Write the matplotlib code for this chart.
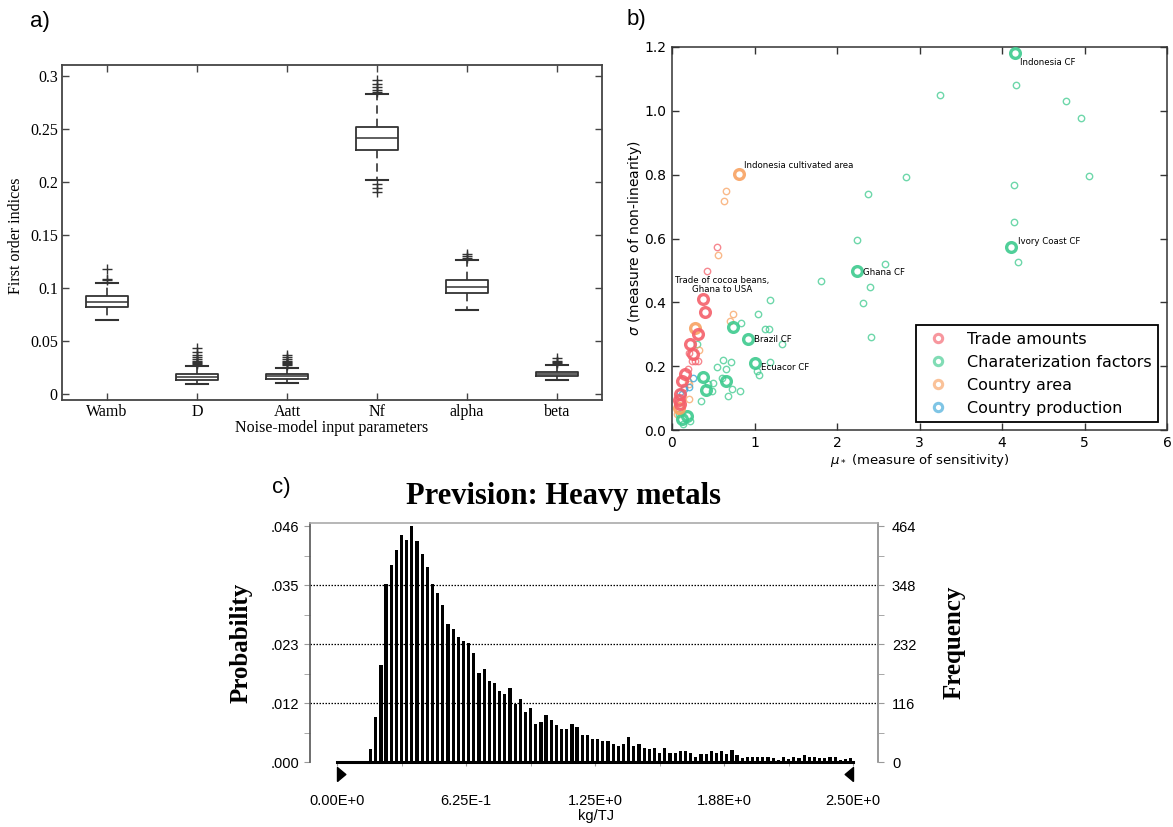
import numpy as np
import matplotlib
matplotlib.use("Agg")
import matplotlib.pyplot as plt
from matplotlib.lines import Line2D
from matplotlib.markers import MarkerStyle
import matplotlib.transforms as mtransforms

# ---------------- a) first-order sensitivity indices ----------------
param_names = ["Wamb", "D", "Aatt", "Nf", "alpha", "beta"]
idx_q1 = [0.0816, 0.0129, 0.0141, 0.2300, 0.0951, 0.0166]
idx_med = [0.0866, 0.0160, 0.0166, 0.2413, 0.1007, 0.0188]
idx_q3 = [0.0920, 0.0188, 0.0188, 0.2513, 0.1076, 0.0207]
idx_whislo = [0.0693, 0.0094, 0.0104, 0.2018, 0.0788, 0.0135]
idx_whishi = [0.1045, 0.0260, 0.0245, 0.2827, 0.1265, 0.0270]
idx_fliers = [
    [0.107, 0.108, 0.118],
    [0.028, 0.029, 0.030, 0.031, 0.033, 0.035, 0.037, 0.040, 0.043],
    [0.027, 0.028, 0.029, 0.030, 0.031, 0.033, 0.035, 0.037],
    [0.285, 0.287, 0.289, 0.292, 0.296, 0.198, 0.194, 0.190],
    [0.128, 0.130, 0.132],
    [0.029, 0.030, 0.031, 0.034],
]
a_yticks = [0, 0.05, 0.1, 0.15, 0.2, 0.25, 0.3]
a_yticklabels = ["0", "0.05", "0.1", "0.15", "0.2", "0.25", "0.3"]

# ---------------- b) Morris screening: mu* vs sigma ----------------
trade_major_x = [0.38, 0.40, 0.32, 0.22, 0.26, 0.12, 0.16, 0.10, 0.10, 0.09]
trade_major_y = [0.4115, 0.370, 0.2995, 0.270, 0.239, 0.155, 0.176, 0.113, 0.082, 0.095]
trade_minor_x = [0.42, 0.55, 0.24, 0.28, 0.32, 0.19, 0.14, 0.21]
trade_minor_y = [0.497, 0.574, 0.216, 0.216, 0.216, 0.192, 0.135, 0.240]

cf_major_x = [4.16, 4.11, 2.24, 0.92, 1.01, 0.74, 0.38, 0.41, 0.66, 0.12, 0.18]
cf_major_y = [1.18, 0.572, 0.497, 0.286, 0.209, 0.322, 0.165, 0.124, 0.153, 0.035, 0.045]
cf_minor_x = [4.17, 3.25, 4.77, 4.96, 5.05, 2.84, 4.15, 2.37, 4.15, 2.24,
              2.58, 4.19, 1.81, 2.40, 2.31, 2.41, 1.19, 1.04, 0.84, 1.13,
              1.18, 1.33, 0.62, 0.72, 0.55, 0.65, 1.19, 1.03, 1.05, 0.60,
              0.50, 0.73, 0.83, 0.49, 0.68, 0.35, 0.44, 0.30, 0.13, 0.22, 0.08]
cf_minor_y = [1.08, 1.05, 1.03, 0.977, 0.796, 0.792, 0.769, 0.739, 0.651, 0.595,
              0.519, 0.525, 0.467, 0.448, 0.399, 0.291, 0.408, 0.364, 0.335, 0.317,
              0.317, 0.268, 0.220, 0.213, 0.197, 0.190, 0.213, 0.186, 0.171, 0.162,
              0.147, 0.129, 0.121, 0.121, 0.108, 0.092, 0.145, 0.270, 0.019, 0.029, 0.050]

area_major_x = [0.81, 0.28, 0.09]
area_major_y = [0.802, 0.320, 0.070]
area_minor_x = [0.56, 0.66, 0.63, 0.74, 0.70, 0.33, 0.21, 0.08, 0.21, 0.19, 0.06]
area_minor_y = [0.548, 0.750, 0.718, 0.362, 0.343, 0.250, 0.097, 0.061, 0.144, 0.155, 0.050]

prod_x = [0.25, 0.14, 0.12, 0.20, 0.10]
prod_y = [0.163, 0.129, 0.113, 0.134, 0.120]

group_names = ["Trade amounts", "Charaterization factors", "Country area", "Country production"]
group_colors = ["#f4606b", "#3dca8e", "#f8a262", "#3aa6d8"]

point_labels = [
    ("Indonesia CF", 4.22, 1.151, "left"),
    ("Indonesia cultivated area", 0.87, 0.83, "left"),
    ("Trade of cocoa beans,\nGhana to USA", 0.61, 0.455, "center"),
    ("Ghana CF", 2.32, 0.493, "left"),
    ("Brazil CF", 1.00, 0.285, "left"),
    ("Ecuacor CF", 1.08, 0.196, "left"),
    ("Ivory Coast CF", 4.20, 0.592, "left"),
]

# ---------------- c) Monte Carlo forecast histogram ----------------
hist_counts = [25, 88, 190, 350, 387, 417, 447, 437, 465, 434,
               410, 384, 350, 332, 308, 271, 261, 245, 238, 234,
               214, 175, 183, 160, 156, 140, 133, 146, 114, 123,
               99, 106, 75, 78, 93, 82, 72, 65, 65, 75,
               69, 54, 54, 45, 45, 41, 41, 35, 32, 36,
               49, 31, 36, 28, 25, 28, 17, 28, 17, 17,
               22, 22, 17, 10, 16, 16, 22, 18, 22, 16,
               23, 14, 8, 9, 9, 9, 10, 10, 7, 4,
               10, 6, 9, 7, 13, 9, 9, 8, 8, 9,
               9, 4, 5, 7]
hist_first_bin = 0.15
hist_bin_width = 0.025
n_trials = 10000
freq_ticks = [0, 116, 232, 348, 464]
c_xticks = [0.0, 0.625, 1.25, 1.875, 2.5]
c_xticklabels = ["0.00E+0", "6.25E-1", "1.25E+0", "1.88E+0", "2.50E+0"]

W, H = 1173, 827
fig = plt.figure(figsize=(W / 100, H / 100), dpi=100)


def px_axes(left, top, right, bottom):
    return fig.add_axes([left / W, 1 - bottom / H, (right - left) / W, (bottom - top) / H])


SERIF = "Liberation Serif"
SANS = "Liberation Sans"

# ================= panel a =================
axa = px_axes(62, 65, 602, 400)
stats = []
for i, name in enumerate(param_names):
    stats.append(dict(label=name, med=idx_med[i], q1=idx_q1[i], q3=idx_q3[i],
                      whislo=idx_whislo[i], whishi=idx_whishi[i], fliers=idx_fliers[i]))
ink = "#333333"
axa.bxp(stats, positions=range(1, len(param_names) + 1), widths=0.47, capwidths=0.25,
        boxprops=dict(color=ink, lw=1.3),
        medianprops=dict(color=ink, lw=1.1),
        whiskerprops=dict(color=ink, lw=1.2, linestyle=(0, (5, 3))),
        capprops=dict(color=ink, lw=1.5),
        flierprops=dict(marker="+", markeredgecolor=ink, markersize=7, markeredgewidth=1.0,
                        linestyle="none"))
axa.set_xlim(0.5, 6.5)
axa.set_ylim(-0.0057, 0.3101)
axa.set_yticks(a_yticks)
axa.set_yticklabels(a_yticklabels)
axa.set_xticks(range(1, len(param_names) + 1))
axa.set_xticklabels(param_names)
axa.tick_params(direction="in", top=True, right=True, length=5, width=1, color="#444444",
                labelsize=11.5, pad=3)
for lab in axa.get_xticklabels() + axa.get_yticklabels():
    lab.set_family(SERIF)
for s in axa.spines.values():
    s.set_color("#444444")
    s.set_linewidth(1.3)
axa.set_xlabel("Noise-model input parameters", family=SERIF, fontsize=11.5, labelpad=0)
axa.set_ylabel("First order indices", family=SERIF, fontsize=11.5)
axa.yaxis.set_label_coords(-0.07, 0.49)

# ================= panel b =================
axb = px_axes(672, 47, 1167, 430)


def rings(ax, xs, ys, color, size, lw, alpha, z):
    ax.plot(xs, ys, linestyle="none", marker="o", markersize=size, markerfacecolor="none",
            markeredgecolor=color, markeredgewidth=lw, alpha=alpha, zorder=z)


rings(axb, cf_minor_x, cf_minor_y, group_colors[1], 4.6, 1.0, 0.75, 2)
rings(axb, area_minor_x, area_minor_y, group_colors[2], 4.6, 1.0, 0.75, 2)
rings(axb, trade_minor_x, trade_minor_y, group_colors[0], 4.6, 1.0, 0.75, 2)
rings(axb, prod_x, prod_y, group_colors[3], 4.6, 1.0, 0.8, 3)
rings(axb, cf_major_x, cf_major_y, group_colors[1], 7.0, 2.4, 0.9, 3)
rings(axb, area_major_x, area_major_y, group_colors[2], 7.0, 2.4, 0.9, 3)
rings(axb, trade_major_x, trade_major_y, group_colors[0], 7.0, 2.4, 0.9, 4)

for text, x, y, ha in point_labels:
    axb.text(x, y, text, fontsize=6.2, ha=ha, va="center", family="DejaVu Sans",
             linespacing=1.0, zorder=5)

axb.set_xlim(0, 6)
axb.set_ylim(0, 1.2)
axb.set_xticks(range(0, 7))
axb.set_yticks(np.arange(0, 1.21, 0.2))
axb.set_yticklabels([f"{v:.1f}" for v in np.arange(0, 1.21, 0.2)])
axb.tick_params(direction="in", top=True, right=True, length=5, width=1, color="#333333",
                labelsize=10, pad=4)
for s in axb.spines.values():
    s.set_color("#333333")
    s.set_linewidth(1.1)
axb.set_xlabel(r"$\mu_*$ (measure of sensitivity)", fontsize=9.5, labelpad=2)
axb.set_ylabel(r"$\sigma$ (measure of non-linearity)", fontsize=10)
axb.yaxis.set_label_coords(-0.057, 0.5)

handles = [Line2D([], [], linestyle="none", marker="o", markersize=6, markerfacecolor="none",
                  markeredgecolor=c, markeredgewidth=2.2, alpha=0.65) for c in group_colors]
leg = axb.legend(handles, group_names, loc="lower right", bbox_to_anchor=(0.9818, 0.0209),
                 borderaxespad=0, fontsize=11.5, fancybox=False, framealpha=1,
                 edgecolor="black", numpoints=1)
leg.get_frame().set_linewidth(1.3)

# ================= panel c =================
axc = px_axes(310, 523, 878, 762)
centers = hist_first_bin + hist_bin_width * (np.arange(len(hist_counts)) + 0.5)
axc.bar(centers, hist_counts, width=hist_bin_width * 0.62, color="black", zorder=3)
axc.set_xlim(-0.131, 2.62)
axc.set_ylim(0, 470)

for f in freq_ticks[1:-1]:
    axc.axhline(f, color="black", lw=0.9, linestyle=(0, (1.2, 1.2)), zorder=2)

axc.spines["bottom"].set_bounds(0, 2.5)
axc.spines["bottom"].set_linewidth(2.2)
axc.spines["bottom"].set_color("black")
axc.spines["bottom"].set_zorder(4)
axc.spines["left"].set_color("#555555")
axc.spines["right"].set_color("#888888")
axc.spines["top"].set_color("#aaaaaa")
for side in ("left", "right", "top"):
    axc.spines[side].set_linewidth(1.2)

axc.set_xticks(c_xticks)
axc.set_xticklabels(c_xticklabels)
axc.set_xticks(np.arange(0.3125, 2.5, 0.625), minor=True)
axc.tick_params(axis="x", which="both", direction="out", length=3, color="#999999",
                labelsize=10.5, pad=20)
axc.set_yticks(freq_ticks)
axc.set_yticklabels([f"{f / n_trials:.3f}".lstrip("0") for f in freq_ticks])
axc.set_yticks(np.array(freq_ticks[:-1]) + 58, minor=True)
axc.tick_params(axis="y", which="both", direction="out", length=4, color="#999999",
                labelsize=10.5, pad=4)
for lab in axc.get_xticklabels() + axc.get_yticklabels():
    lab.set_family(SANS)

axc_r = axc.twinx()
axc_r.set_ylim(axc.get_ylim())
axc_r.set_yticks(freq_ticks)
axc_r.set_yticklabels([str(f) for f in freq_ticks])
axc_r.set_yticks(np.array(freq_ticks[:-1]) + 58, minor=True)
axc_r.tick_params(axis="y", which="both", direction="out", length=4, color="#999999",
                  labelsize=10.5, pad=6)
for lab in axc_r.get_yticklabels():
    lab.set_family(SANS)
for s in axc_r.spines.values():
    s.set_visible(False)

# end-of-range slider triangles under the axis
tri_right = MarkerStyle([(0, -1), (0, 1), (1.2, 0), (0, -1)])
tri_left = MarkerStyle([(0, -1), (0, 1), (-1.2, 0), (0, -1)])
btrans = mtransforms.blended_transform_factory(axc.transData, axc.transAxes)
axc.plot([0.0], [-0.05], marker=tri_right, markersize=12, color="black",
         transform=btrans, clip_on=False, linestyle="none")
axc.plot([2.5], [-0.05], marker=tri_left, markersize=12, color="black",
         transform=btrans, clip_on=False, linestyle="none")

axc.set_ylabel("Probability", family=SERIF, fontweight="bold", fontsize=18)
axc.yaxis.set_label_coords(-0.102, 0.5)
axc_r.set_ylabel("Frequency", family=SERIF, fontweight="bold", fontsize=18)
axc_r.yaxis.set_label_coords(1.114, 0.5)

fig.text(563 / W, 1 - 497 / H, "Prevision: Heavy metals", family=SERIF, fontweight="bold",
         fontsize=22, ha="center", va="center")
fig.text(596 / W, 1 - 816 / H, "kg/TJ", family=SANS, fontsize=10.5, ha="center", va="center")

# panel letters
for letter, x, y in (("a)", 40, 22), ("b)", 636, 20), ("c)", 281, 487)):
    fig.text(x / W, 1 - y / H, letter, family=SANS, fontsize=16, ha="center", va="center")

fig.savefig("out.png", dpi=100, facecolor="white")
